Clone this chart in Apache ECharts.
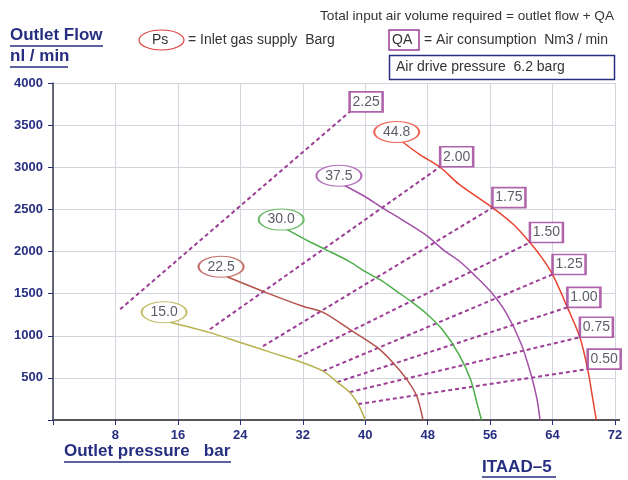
<!DOCTYPE html>
<html><head><meta charset="utf-8">
<script src="https://cdn.jsdelivr.net/npm/echarts@6/dist/echarts.min.js"></script>
<style>html,body{margin:0;padding:0;background:#fff}#c{width:628px;height:480px}</style>
</head><body><div id="c"></div>
<script>
// ---- data ----
const xTicks = [8,16,24,32,40,48,56,64,72];
const yTicks = [500,1000,1500,2000,2500,3000,3500,4000];
const psLabels = ['15.0','22.5','30.0','37.5','44.8'];
const psColors = ['#b8b24e','#b5514a','#4cae48','#a24fa8','#ea4330'];
const curve150 = [[15,1160],[20,1040],[24,920],[28,800],[31.4,700],[34.6,580],[36.4,450],[38,330],[39.1,190],[39.6,90],[40,0]];
const curve225 = [[22.3,1700],[26.9,1527],[32,1350],[34.6,1278],[38.4,1053],[41.5,864],[43.5,686],[45.3,485],[46.6,284],[47.4,0]];
const curve300 = [[30,2260],[33,2110],[35,2020],[38,1880],[40,1760],[42,1660],[44,1530],[46,1400],[48,1250],[50,1060],[52,780],[53.5,480],[54.4,170],[54.9,0]];
const curve375 = [[37.4,2780],[40,2650],[42,2530],[45,2360],[48,2180],[50,2020],[52,1890],[54,1720],[56,1530],[58,1280],[60,900],[61.3,520],[62,250],[62.4,0]];
const curve448 = [[44.8,3300],[47,3150],[49.6,3000],[52,2800],[56.3,2521],[59,2320],[61.1,2107],[62.6,1930],[64,1728],[65.9,1337],[67.5,982],[68.5,604],[69.1,280],[69.6,0]];
const psCurves = [curve150, curve225, curve300, curve375, curve448];
const qaLabels = ['0.50','0.75','1.00','1.25','1.50','1.75','2.00','2.25'];
const qaStart = [[39.1,189],[38.0,331],[36.4,450],[34.6,580],[31.4,746],[26.9,876],[20.1,1077],[8.6,1314]];
const qaEnd = [[68.5,604],[67.5,982],[65.9,1337],[64.0,1728],[61.1,2107],[56.3,2521],[49.6,3006],[38.0,3657]];

const NAVY = '#262e80';
const PURPLE = '#9c3d96';
const FONT = '"Liberation Sans", Arial, sans-serif';
const ellipse = 'path://M0,10A20,10,0,1,1,40,10A20,10,0,1,1,0,10Z';

const series = [];
qaLabels.forEach((l,i)=>{
  series.push({type:'line', data:[qaStart[i], qaEnd[i]], symbol:'none', silent:true, z:2,
    lineStyle:{color:PURPLE, width:2, type:[4,3]}});
});
psCurves.forEach((c,i)=>{
  series.push({type:'line', data:c, symbol:'none', smooth:0.3, z:3,
    lineStyle:{color:psColors[i], width:1.5}});
});
psCurves.forEach((c,i)=>{
  series.push({type:'scatter', data:[c[0]], z:5, symbol:ellipse, symbolSize:[45,21], symbolOffset:[-6,-10],
    itemStyle:{color:'#fff', borderColor:psColors[i], borderWidth:1.5},
    label:{show:true, position:'inside', formatter:psLabels[i], color:'#333344', fontSize:14, fontFamily:FONT}});
});
qaLabels.forEach((l,i)=>{
  series.push({type:'scatter', data:[qaEnd[i]], z:5, symbol:'rect', symbolSize:[33,20], symbolOffset:[16.5,-10],
    itemStyle:{color:'#fff', borderColor:PURPLE, borderWidth:2},
    label:{show:true, position:'inside', formatter:l, color:'#333344', fontSize:14, fontFamily:FONT}});
});

const chart = echarts.init(document.getElementById('c'), null, {renderer:'canvas'});
chart.setOption({
  animation:false,
  backgroundColor:'#fff',
  grid:{left:53, right:13, top:83, bottom:60},
  xAxis:{type:'value', min:0, max:72, interval:8,
    axisLine:{show:true, onZero:false, lineStyle:{color:'#555', width:2}},
    axisTick:{show:true, length:5, lineStyle:{color:NAVY}},
    axisLabel:{color:NAVY, fontSize:13, fontWeight:'bold', fontFamily:FONT, margin:9,
      formatter:v=>xTicks.includes(v)?String(v):''},
    splitLine:{show:true, lineStyle:{color:'#d4d4dc', width:1}}},
  yAxis:{type:'value', min:0, max:4000, interval:500,
    axisLine:{show:true, onZero:false, lineStyle:{color:'#3a3a50', width:1.5}},
    axisTick:{show:true, length:5, lineStyle:{color:NAVY}},
    axisLabel:{color:NAVY, fontSize:13, fontWeight:'bold', fontFamily:FONT, margin:10,
      formatter:v=>yTicks.includes(v)?String(v):''},
    splitLine:{show:true, lineStyle:{color:'#d4d4dc', width:1}}},
  graphic:[
    {type:'line', shape:{x1:615,y1:420,x2:620,y2:420}, style:{stroke:'#555', lineWidth:2}},
    {type:'text', left:10, top:27, style:{text:'Outlet Flow', fill:NAVY, font:'bold 17px '+FONT}},
    {type:'line', shape:{x1:10,y1:46,x2:103,y2:46}, style:{stroke:NAVY, lineWidth:1.5}},
    {type:'text', left:10, top:48, style:{text:'nl / min', fill:NAVY, font:'bold 17px '+FONT}},
    {type:'line', shape:{x1:10,y1:67,x2:68,y2:67}, style:{stroke:NAVY, lineWidth:1.5}},
    {type:'text', right:14, top:9, style:{text:'Total input air volume required = outlet flow + QA', fill:'#333', font:'13.6px '+FONT}},
    {type:'ellipse', shape:{cx:161.5, cy:40, rx:22.5, ry:10}, style:{fill:'#fff', stroke:'#d9403a', lineWidth:1.2}},
    {type:'text', left:152, top:33, style:{text:'Ps', fill:'#333', font:'14px '+FONT}},
    {type:'text', left:188, top:33, style:{text:'= Inlet gas supply  Barg', fill:'#333', font:'14px '+FONT}},
    {type:'rect', shape:{x:389, y:30, width:30, height:20}, style:{fill:'#fff', stroke:PURPLE, lineWidth:1.5}},
    {type:'text', left:392, top:33, style:{text:'QA', fill:'#333', font:'14px '+FONT}},
    {type:'text', left:424, top:33, style:{text:'= Air consumption  Nm3 / min', fill:'#333', font:'14px '+FONT}},
    {type:'rect', shape:{x:389.5, y:55.5, width:225, height:24}, style:{fill:'#fff', stroke:NAVY, lineWidth:1.5}},
    {type:'text', left:396, top:60, style:{text:'Air drive pressure  6.2 barg', fill:'#333', font:'14px '+FONT}},
    {type:'text', left:64, top:443, style:{text:'Outlet pressure   bar', fill:NAVY, font:'bold 17px '+FONT}},
    {type:'line', shape:{x1:64,y1:462,x2:231,y2:462}, style:{stroke:NAVY, lineWidth:1.5}},
    {type:'text', left:482, top:459, style:{text:'ITAAD\u20135', fill:NAVY, font:'bold 17px '+FONT}},
    {type:'line', shape:{x1:482,y1:477,x2:556,y2:477}, style:{stroke:NAVY, lineWidth:1.5}}
  ],
  series:series
});
</script></body></html>
